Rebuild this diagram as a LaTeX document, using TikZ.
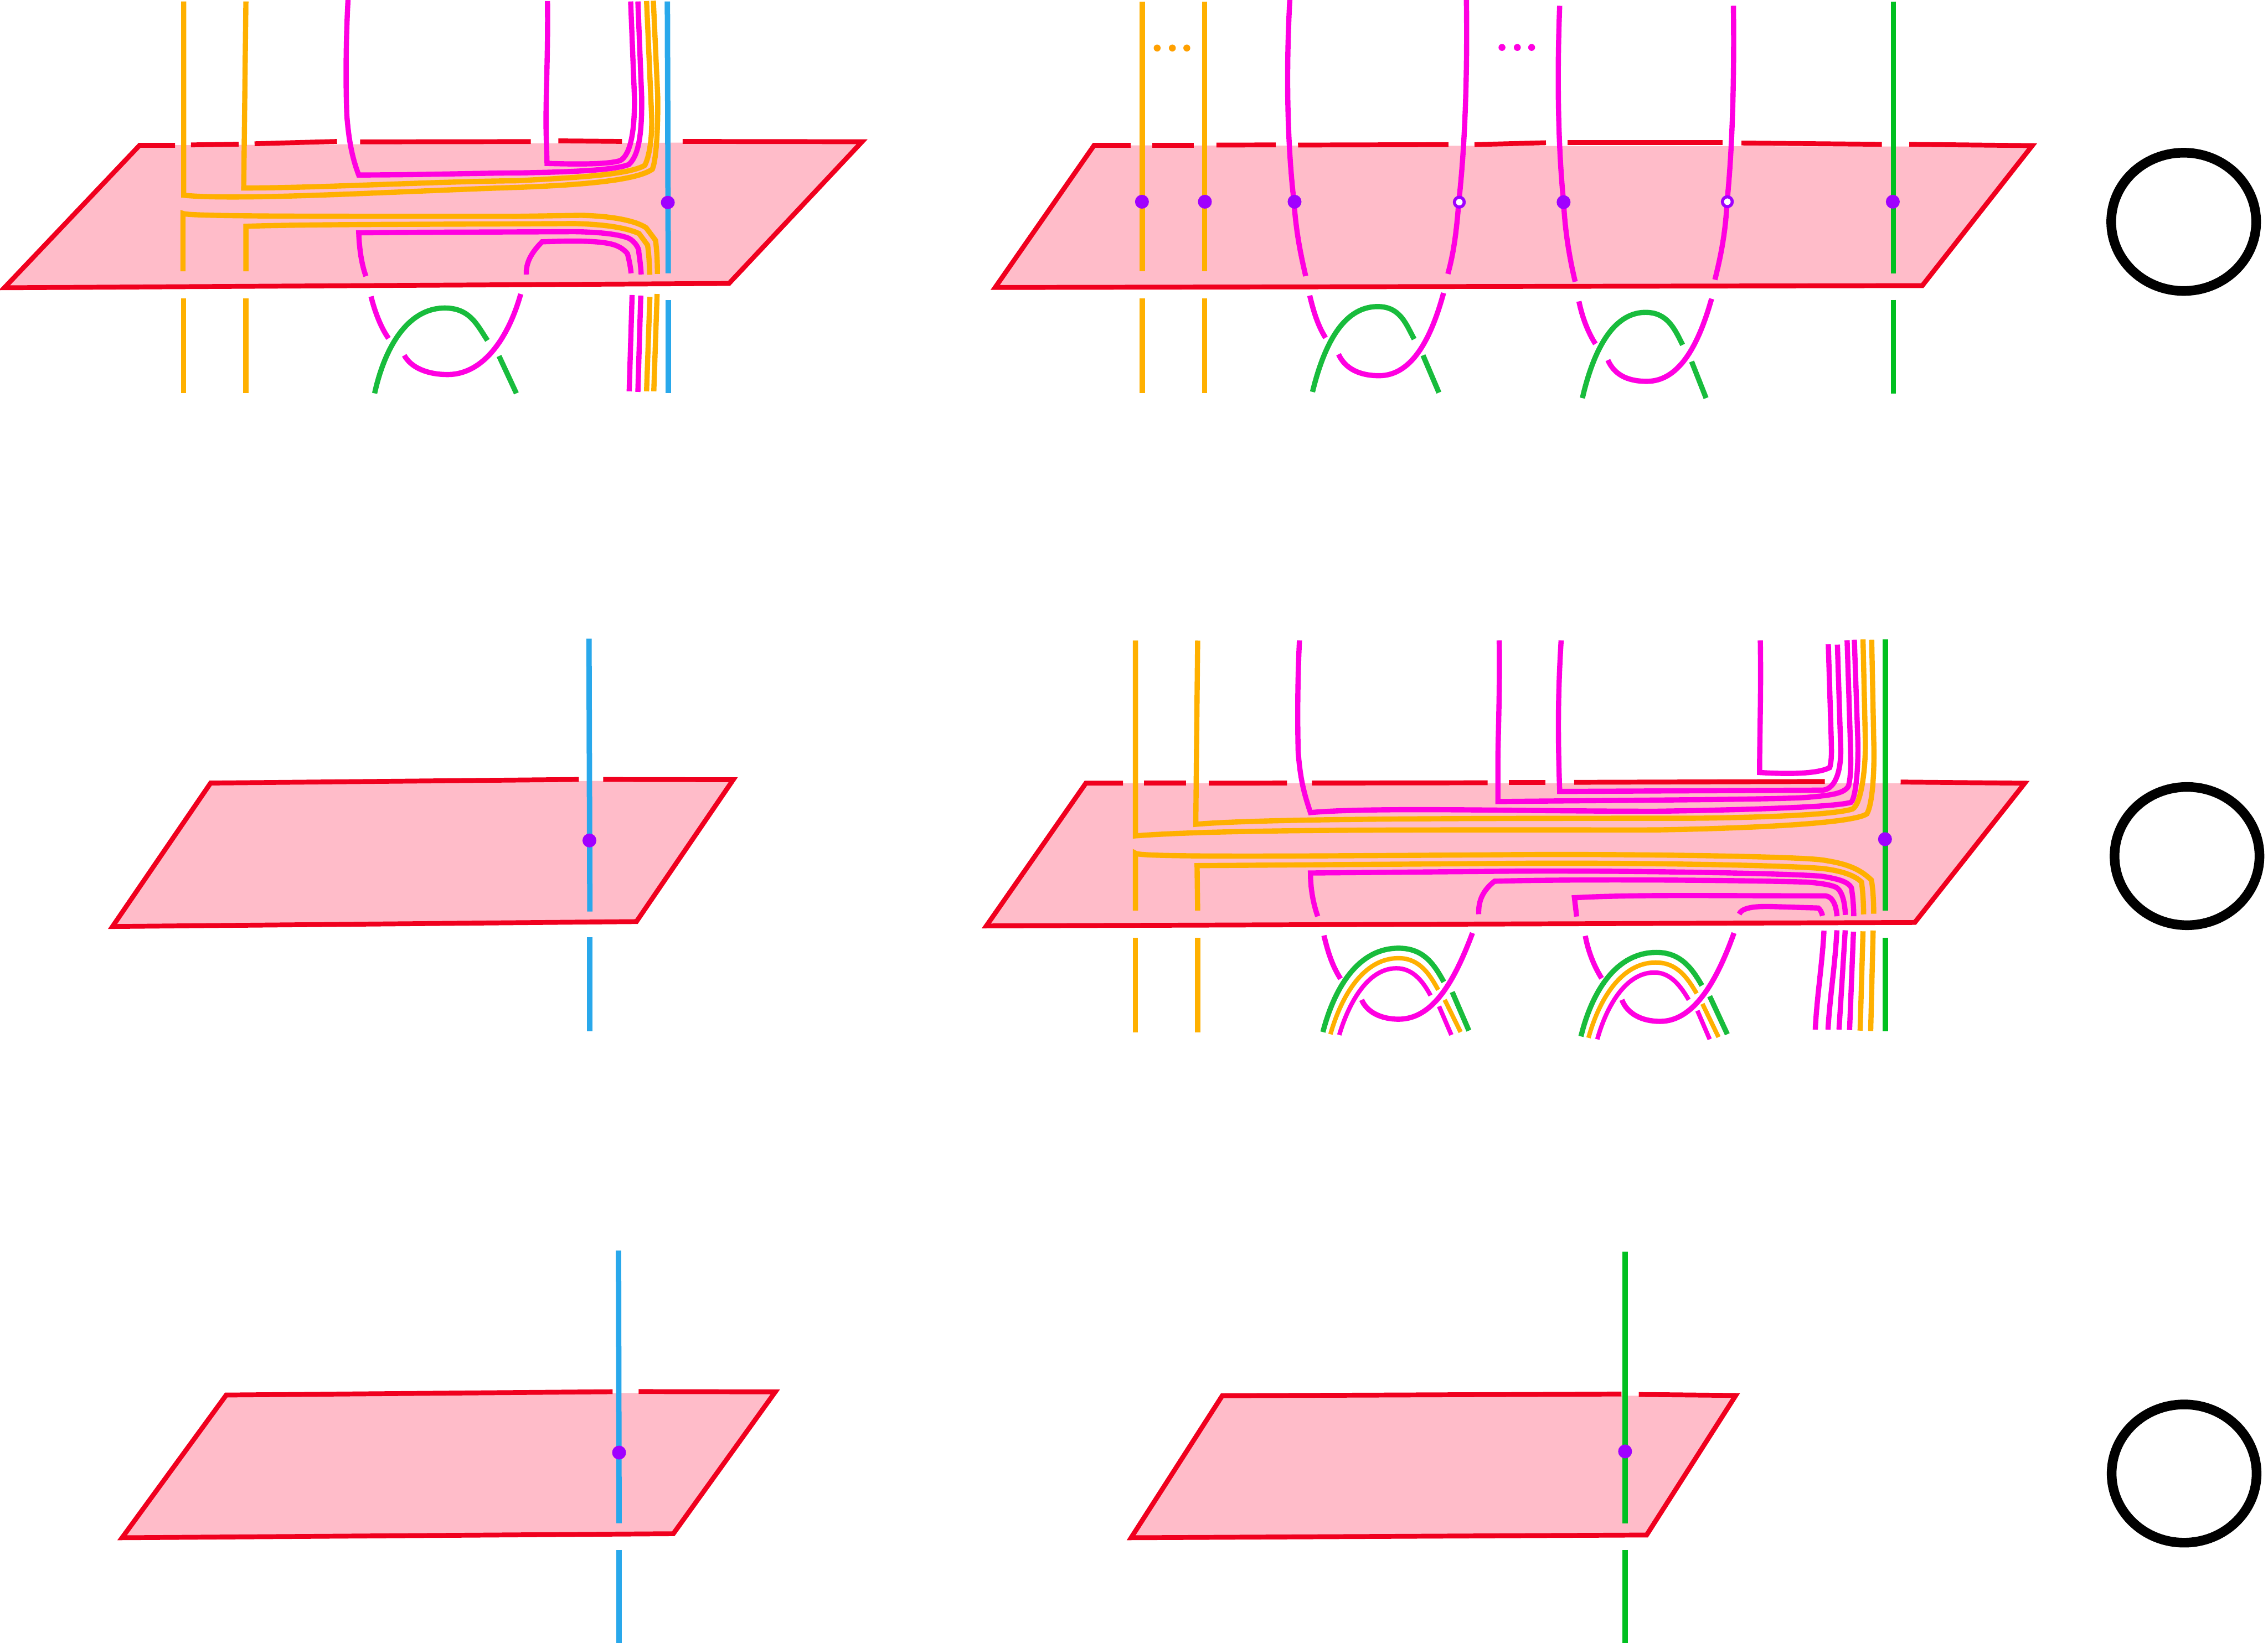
\documentclass[tikz,border=0pt]{standalone}
\definecolor{planefill}{RGB}{255,188,201}
\definecolor{planered}{RGB}{240,0,30}
\definecolor{mag}{RGB}{255,0,225}
\definecolor{org}{RGB}{255,176,0}
\definecolor{blu}{RGB}{41,168,235}
\definecolor{grn}{RGB}{0,192,32}
\definecolor{knotgrn}{RGB}{24,188,60}
\definecolor{pur}{RGB}{160,0,255}
\tikzset{
  planeface/.style={fill=planefill,draw=none},
  planeedge/.style={color=planered,line width=2.5pt,line join=miter},
  magstrand/.style={color=mag,line width=2.7pt},
  orgstrand/.style={color=org,line width=2.7pt},
  blustrand/.style={color=blu,line width=2.8pt},
  grnstrand/.style={color=grn,line width=2.8pt},
  knotstrand/.style={color=knotgrn,line width=2.7pt},
  puncture/.style={fill=pur,draw=none},
  hollowpuncture/.style={fill=white,draw=pur,line width=1.6pt},
  bigloop/.style={draw=black,line width=5pt}
}
\begin{document}
\begin{tikzpicture}[x=0.75pt,y=0.75pt,yscale=-1,xscale=1]
\useasboundingbox (0,0) rectangle (1568,1136);

% top left
\fill [planeface] (97,100.5) -- (596,98) -- (504,196) -- (3,199) -- cycle;
\draw [planeedge] (121,100.5) -- (96.5,100.5) -- (3,199) -- (504,196) -- (596,98) -- (472,97.8);
\draw [planeedge] (132,100.2) -- (165,99.7);
\draw [planeedge] (176,99.4) -- (233,97.8);
\draw [planeedge] (249,98.1) -- (367,97.9);
\draw [planeedge] (386,97.4) -- (430,97.8);

\draw [orgstrand] (127,1) -- (127,135) .. controls (165,139) and (280,132) .. (357,129.6) .. controls (400,128) and (440,125) .. (451,117) .. controls (454,110) and (455,85) .. (454.7,66.5) -- (451.7,0.5);
\draw [orgstrand] (170,1) -- (168.5,130) .. controls (220,130) and (300,125.5) .. (357,125) .. controls (395,123) and (435,121) .. (445.8,114.3) .. controls (449,108) and (451,95) .. (450.5,79.8) -- (447,0.7);
\draw [magstrand] (240.6,0) .. controls (239,30) and (239,60) .. (239.8,80) .. controls (241,95) and (243,108) .. (248,121) .. controls (290,121) and (340,119.5) .. (357.4,119.6) .. controls (390,119) and (425,118) .. (434.8,113.7) .. controls (441,108) and (444,95) .. (443.6,66.5) -- (441,1);
\draw [magstrand] (378.5,0.7) .. controls (379,40) and (377,70) .. (377.6,93) -- (378.2,113) .. controls (395,113.5) and (420,114) .. (428.9,111) .. controls (436,107) and (439,90) .. (438.6,66.5) -- (436,1);
\draw [blustrand] (461.4,1) -- (462,189);

\draw [orgstrand] (126.5,187.6) -- (126.5,147.6) .. controls (130,150) and (250,149.5) .. (357.4,149.6) -- (402,148.9) .. controls (425,149.5) and (440,153) .. (446.7,157.5) -- (453.2,166.2) .. controls (454,172) and (454.5,180) .. (454.5,189.4);
\draw [orgstrand] (170,187.6) -- (170,156.5) .. controls (210,155) and (300,155.2) .. (397,154.6) .. controls (415,155) and (432,157) .. (441.8,161.5) -- (447.7,169.5) .. controls (448.5,175) and (449,182) .. (449.2,190);
\draw [magstrand] (253,191) .. controls (250,183) and (248.4,172) .. (248,161) .. controls (290,160.5) and (340,160.5) .. (397,160.2) .. controls (415,160.5) and (428,162) .. (434.8,164.8) .. controls (439,167) and (442,172) .. (441.6,174.2) .. controls (442.5,180) and (443,185) .. (443.3,189.8);
\draw [magstrand] (363.9,189.8) .. controls (363.5,182) and (367,175) .. (374.8,167.2) .. controls (395,166.5) and (418,166) .. (426.9,170.2) .. controls (431,172) and (433.5,175) .. (433.8,175.5) .. controls (435,180) and (436,185) .. (436.3,189);

\draw [orgstrand] (127,206.4) -- (127,271.9);
\draw [orgstrand] (170,206.4) -- (170,271.9);
\draw [magstrand] (256.5,205) .. controls (259,215) and (263,226) .. (268.6,234);
\draw [knotstrand] (259,272) .. controls (266,240) and (282,213) .. (307.5,213) .. controls (325,213) and (330,225) .. (337,235.4);
\draw [magstrand] (360,203.3) .. controls (352,232) and (335,259) .. (309.5,259) .. controls (295,259) and (284,254) .. (279.5,245.7);
\draw [knotstrand] (345,246.2) -- (357,272);
\draw [magstrand] (437,204) -- (435,270.6);
\draw [magstrand] (443,204.4) -- (441,271);
\draw [orgstrand] (449.3,205.3) -- (447,270.6);
\draw [orgstrand] (454.3,203.3) -- (452,270.6);
\draw [blustrand] (462,207.3) -- (462,271.9);
\draw [puncture] (461.7,140) circle [x radius=4.8, y radius=4.6];

% top middle
\fill [planeface] (756.4,100.5) -- (1405,101.4) -- (1329,197.5) -- (688,198.8) -- cycle;
\draw [planeedge] (781.6,100.5) -- (756.4,100.5) -- (688,198.8) -- (1329,197.5) -- (1405,100.7) -- (1320,99.8);
\draw [planeedge] (796.8,100.5) -- (825.3,100.5);
\draw [planeedge] (841,100.3) -- (882,100.2);
\draw [planeedge] (897.4,100.3) -- (1001.4,100);
\draw [planeedge] (1019.4,100) -- (1068.8,98.7);
\draw [planeedge] (1083.6,98.7) -- (1190.9,98.7);
\draw [planeedge] (1204,98.9) -- (1301,99.8);

\draw [orgstrand] (789.7,1) -- (789.7,187.6);
\draw [orgstrand] (832.9,1) -- (832.9,187.6);
\draw [magstrand] (891.7,0) .. controls (889,50) and (890,100) .. (894.6,139.5) .. controls (896,160) and (899,175) .. (902.7,190.9);
\draw [magstrand] (1013.8,0) .. controls (1014.5,50) and (1013,100) .. (1008.5,139.8) .. controls (1007,160) and (1005,175) .. (1001,189.4);
\draw [magstrand] (1078.3,4) .. controls (1076.5,50) and (1077,100) .. (1081,139.8) .. controls (1082,160) and (1085,178) .. (1089,194.8);
\draw [magstrand] (1198.4,4) .. controls (1199,50) and (1198,100) .. (1194,139.5) .. controls (1193,160) and (1190,176) .. (1185.6,193.4);
\draw [grnstrand] (1309,1) -- (1309,189);
\foreach \px in {800,810.5,820.5} \fill [color={rgb,255:red,255;green,160;blue,0}] (\px,33.2) circle [x radius=2.4, y radius=2.4];
\foreach \px in {1038.4,1049,1058.9} \fill [mag] (\px,32.8) circle [x radius=2.4, y radius=2.4];

\draw [orgstrand] (789.7,206.4) -- (789.7,271.9);
\draw [orgstrand] (832.9,206.4) -- (832.9,271.9);
\draw [grnstrand] (1309,207.3) -- (1309,272);
\draw [magstrand] (905.5,204.4) .. controls (908,215) and (911,225) .. (916.4,233.6);
\draw [knotstrand] (907.4,271) .. controls (915,240) and (928,212) .. (952.5,212) .. controls (968,212) and (972,224) .. (977.7,234.5);
\draw [magstrand] (998,202.6) .. controls (990,232) and (977,259.8) .. (953.5,259.8) .. controls (940,259.8) and (930,255) .. (925.4,245);
\draw [knotstrand] (983.8,245.7) -- (994.8,271.5);
\draw [magstrand] (1091.6,208.4) .. controls (1094,220) and (1098,230) .. (1103,237.8);
\draw [knotstrand] (1094,275.3) .. controls (1101,245) and (1114,216) .. (1137.7,216) .. controls (1153,216) and (1158,228) .. (1163.3,238.5);
\draw [magstrand] (1183.3,206.6) .. controls (1175,236) and (1162,263.7) .. (1138.6,263.7) .. controls (1125,263.7) and (1116,259) .. (1111.6,249);
\draw [knotstrand] (1169.5,250) -- (1179.5,275.3);

\draw [puncture] (789.5,139.5) circle [x radius=4.8, y radius=4.8];
\draw [puncture] (833,139.5) circle [x radius=4.8, y radius=4.8];
\draw [puncture] (895,139.5) circle [x radius=4.8, y radius=4.8];
\draw [hollowpuncture] (1008.9,139.8) circle [x radius=3.4, y radius=3.4];
\draw [puncture] (1081,139.8) circle [x radius=4.8, y radius=4.8];
\draw [hollowpuncture] (1194.2,139.5) circle [x radius=3.4, y radius=3.4];
\draw [puncture] (1308.6,139.5) circle [x radius=4.8, y radius=4.8];

\draw [bigloop] (1509.7,153.4) circle [x radius=50.1, y radius=47.8];

% middle left
\fill [planeface] (145.6,541.5) -- (506.9,539.5) -- (440,637.3) -- (77.8,640.7) -- cycle;
\draw [planeedge] (400.2,539) -- (145.6,541.5) -- (77.8,640.7) -- (440,637.3) -- (506.9,539.2) -- (417,539);
\draw [blustrand] (407.2,441.6) -- (407.8,630.3);
\draw [blustrand] (407.8,648.2) -- (407.8,713);
\draw [puncture] (407.5,581.2) circle [x radius=4.8, y radius=4.8];

% middle middle
\fill [planeface] (750.7,541.6) -- (1399.8,541.6) -- (1323.8,637.9) -- (681.9,640.3) -- cycle;
\draw [planeedge] (776.4,541.6) -- (750.7,541.6) -- (681.9,640.3) -- (1323.8,637.9) -- (1399.8,541.6) -- (1314,540.8);
\draw [planeedge] (791,541.6) -- (820,541.6);
\draw [planeedge] (835.7,541.6) -- (889.8,541.5);
\draw [planeedge] (907,541.5) -- (1028.5,541.3);
\draw [planeedge] (1043,541) -- (1068.4,541);
\draw [planeedge] (1088.3,541) -- (1261.6,540.4);

\draw [orgstrand] (785,443) -- (785,578) .. controls (850,573) and (1000,574) .. (1145,573.9) .. controls (1200,573) and (1280,570) .. (1290.7,562.8) .. controls (1295,555) and (1296,530) .. (1295.4,511.6) -- (1294,442.4);
\draw [orgstrand] (828,443) -- (826.7,570) .. controls (880,565.5) and (1050,566) .. (1176,565.8) .. controls (1230,565) and (1270,563) .. (1280.8,559.4) .. controls (1287,556) and (1290,530) .. (1289.6,511.6) -- (1288,442.2);
\draw [magstrand] (898.4,442.8) .. controls (897,470) and (897,500) .. (897.5,520) .. controls (899,540) and (902,550) .. (906,561.9) .. controls (950,558) and (1050,561) .. (1145,561) .. controls (1210,560) and (1270,558) .. (1279.7,554.8) .. controls (1283,552) and (1285,530) .. (1284.4,511.6) -- (1282,442.4);
\draw [magstrand] (1036.5,442.8) .. controls (1037,480) and (1035.6,510) .. (1035.6,526.8) -- (1035.6,554.3) .. controls (1100,553.5) and (1230,553) .. (1249.4,551.4) .. controls (1265,550) and (1275,549) .. (1278,543.5) .. controls (1280,535) and (1279.5,525) .. (1279.2,511.6) -- (1277,442.7);
\draw [magstrand] (1079.3,442.8) .. controls (1077,480) and (1077,510) .. (1078.3,547.3) -- (1260,546.4) .. controls (1268,546) and (1272.8,535) .. (1272.6,518.2) -- (1270.3,445.8);
\draw [magstrand] (1217,442.8) .. controls (1217.6,480) and (1216.5,510) .. (1216.5,534.2) .. controls (1230,535) and (1255,536) .. (1265,530.8) .. controls (1266.5,525) and (1266.2,520) .. (1266,510) -- (1264,445.4);

\draw [orgstrand] (785,629.7) -- (785,590) .. controls (787,593) and (900,592) .. (1049.8,591) .. controls (1120,590.5) and (1240,592) .. (1260,594.7) .. controls (1275,597) and (1285,600) .. (1293.8,608.6) .. controls (1295,615) and (1295.4,625) .. (1295.4,631.9);
\draw [orgstrand] (828,629.7) -- (827.6,598.6) -- (1049.8,597) .. controls (1120,596.5) and (1230,598) .. (1260,600.6) .. controls (1272,602) and (1282,605) .. (1287,610) .. controls (1288,618) and (1288.4,625) .. (1288.4,632.3);
\draw [magstrand] (911,633.7) .. controls (908,625) and (906,615) .. (906,603.7) -- (1049.8,602.4) .. controls (1130,602) and (1240,604) .. (1260,606) .. controls (1272,608) and (1278,610) .. (1280,614) .. controls (1281,620) and (1281.6,628) .. (1281.6,633.6);
\draw [magstrand] (1022.3,632.2) .. controls (1022,623) and (1025,616) .. (1033.2,609.4) .. controls (1100,607.5) and (1220,609) .. (1249.4,610) .. controls (1262,611) and (1268,612.6) .. (1270,614) .. controls (1274,617) and (1275.5,625) .. (1275.8,632.7);
\draw [magstrand] (1090,633.8) -- (1088.5,620.8) .. controls (1130,618.5) and (1180,619.5) .. (1262,619.5) .. controls (1267,620) and (1269.5,626) .. (1270,633.6);
\draw [magstrand] (1202.4,632.1) .. controls (1204,628) and (1212,626.5) .. (1225,626.9) -- (1257,627.9) .. controls (1258.5,629) and (1259.5,631) .. (1260,633.3);

\draw [grnstrand] (1303.6,442.3) -- (1303.6,629.9);
\draw [puncture] (1303.2,580.3) circle [x radius=4.8, y radius=4.8];

\draw [orgstrand] (785,648.5) -- (785,713.8);
\draw [orgstrand] (828,648.5) -- (828,713.8);

\draw [magstrand] (915.3,646.9) .. controls (918,658) and (921,668) .. (926.8,676.8);
\draw [knotstrand] (914.6,713.7) .. controls (922,685) and (938,655.7) .. (966.9,655.7) .. controls (985,655.7) and (992,668) .. (998.2,679);
\draw [orgstrand,line width=2.3pt] (919.8,715.2) .. controls (927,690) and (942,662.6) .. (966.9,662.6) .. controls (982,662.6) and (989,675) .. (994.3,684.5);
\draw [magstrand,line width=2.3pt] (925.9,715.7) .. controls (932,695) and (945,669.6) .. (965.4,669.6) .. controls (977,669.6) and (984,679) .. (989,688.4);
\draw [magstrand] (1018,645.2) .. controls (1005,680) and (990,704.8) .. (966.9,704.8) .. controls (955,704.8) and (945,700) .. (941.4,691.4);
\draw [knotstrand] (1004,686) -- (1015.5,712.7);
\draw [orgstrand,line width=2.3pt] (998.8,691.4) -- (1009.8,713.7);
\draw [magstrand,line width=2.3pt] (994.9,695.9) -- (1003.4,715.7);

\draw [magstrand] (1096,647.2) .. controls (1098,658) and (1102,668) .. (1107.3,676.5);
\draw [knotstrand] (1093,716.7) .. controls (1100,688) and (1116,658.6) .. (1145.3,658.6) .. controls (1162,658.6) and (1170,670) .. (1176.6,681.5);
\draw [orgstrand,line width=2.3pt] (1098.2,717.7) .. controls (1105,693) and (1120,665.6) .. (1144.7,665.6) .. controls (1160,665.6) and (1167,677) .. (1173,687);
\draw [magstrand,line width=2.3pt] (1104.3,718.7) .. controls (1110,698) and (1123,672.5) .. (1143.8,672.5) .. controls (1155,672.5) and (1162,682) .. (1167.5,691.4);
\draw [magstrand] (1198.8,645.2) .. controls (1186,681) and (1170,706.3) .. (1147.7,706.3) .. controls (1135,706.3) and (1125,701) .. (1121.3,691.4);
\draw [knotstrand] (1182,688.9) -- (1194.2,715.2);
\draw [orgstrand,line width=2.3pt] (1177,694.2) -- (1188.1,717.2);
\draw [magstrand,line width=2.3pt] (1173.5,698.9) -- (1182,718.7);

\draw [magstrand] (1261,643.6) .. controls (1260,665) and (1256,690) .. (1255,712);
\draw [magstrand] (1269.9,643.3) .. controls (1269,665) and (1265,690) .. (1263.8,712);
\draw [magstrand] (1275.7,643.3) -- (1271.4,712);
\draw [magstrand] (1281.4,644.3) -- (1278.7,712.3);
\draw [orgstrand] (1288,644) -- (1286,712.7);
\draw [orgstrand] (1295,643.5) -- (1293.3,713);
\draw [grnstrand] (1303.6,648.3) -- (1303.6,713);

\draw [bigloop] (1512,592) circle [x radius=50.1, y radius=47.8];

% bottom left
\fill [planeface] (156.4,964.7) -- (536,962.8) -- (465.5,1060.6) -- (84.4,1063.4) -- cycle;
\draw [planeedge] (423.5,962.4) -- (156.4,964.7) -- (84.4,1063.4) -- (465.5,1060.6) -- (536,962.5) -- (441.5,962.3);
\draw [blustrand] (427.6,864.8) -- (428,1053.3);
\draw [blustrand] (428,1071.8) -- (428,1136);
\draw [puncture] (428,1004.5) circle [x radius=4.8, y radius=4.8];

% bottom middle
\fill [planeface] (845,965.2) -- (1200,965.2) -- (1138.4,1061.5) -- (782,1063.4) -- cycle;
\draw [planeedge] (1121,964) -- (845,965.2) -- (782,1063.4) -- (1138.4,1061.5) -- (1200,965) -- (1133,964.3);
\draw [grnstrand] (1123.6,865.6) -- (1123.6,1053.3);
\draw [grnstrand] (1123.6,1071.8) -- (1123.6,1136);
\draw [puncture] (1123.5,1003.7) circle [x radius=4.8, y radius=4.8];

\draw [bigloop] (1510,1019) circle [x radius=50.1, y radius=47.8];

\end{tikzpicture}
\end{document}
